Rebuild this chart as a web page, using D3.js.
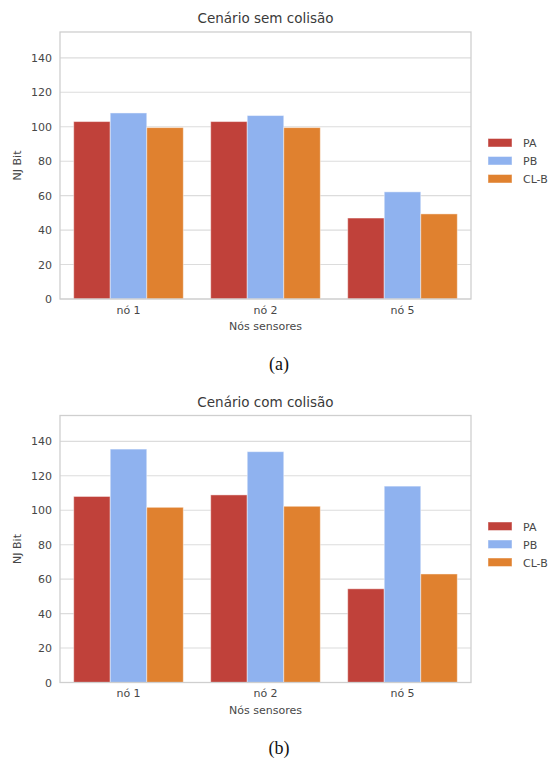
<!DOCTYPE html>
<html>
<head>
<meta charset="utf-8">
<script src="https://cdn.jsdelivr.net/npm/d3@7"></script>
<style>
  html, body { margin: 0; padding: 0; background: #fff; }
  svg { display: block; }
</style>
</head>
<body>
<svg id="chart" width="550" height="758"></svg>
<script>
// Energy per bit (nJ) for each sensor node, with and without collisions
const categories = ["nó 1", "nó 2", "nó 5"];
const seriesNames = ["PA", "PB", "CL-B"];
const seriesColors = ["#c0413a", "#8fb2ef", "#e0812f"];

const semColisaoPA  = [103, 103, 47];
const semColisaoPB  = [108, 106.5, 62.2];
const semColisaoCLB = [99.5, 99.5, 49.4];

const comColisaoPA  = [108, 108.9, 54.4];
const comColisaoPB  = [135.5, 134, 114];
const comColisaoCLB = [101.7, 102.3, 63];

const yTicks = [0, 20, 40, 60, 80, 100, 120, 140];
const yMax = 155;

const panels = [
  { title: "Cenário sem colisão", caption: "(a)", values: [semColisaoPA, semColisaoPB, semColisaoCLB], top: 32 },
  { title: "Cenário com colisão", caption: "(b)", values: [comColisaoPA, comColisaoPB, comColisaoCLB], top: 415.5 }
];

const svg = d3.select("#chart");
const font = "'DejaVu Sans', sans-serif";
const left = 60, right = 471, plotH = 267;

panels.forEach(p => {
  const g = svg.append("g");
  const top = p.top, bottom = p.top + plotH;

  const x = d3.scaleBand().domain(categories).range([left, right])
    .paddingInner(0.2).paddingOuter(0.1);
  const xs = d3.scaleBand().domain(seriesNames).range([0, x.bandwidth()]);
  const y = d3.scaleLinear().domain([0, yMax]).range([bottom, top]);

  // horizontal grid
  g.append("g").selectAll("line").data(yTicks).join("line")
    .attr("x1", left).attr("x2", right)
    .attr("y1", d => y(d)).attr("y2", d => y(d))
    .attr("stroke", "#dcdcdc").attr("stroke-width", 1.1);

  // bars
  const rows = [];
  seriesNames.forEach((s, si) => categories.forEach((c, ci) =>
    rows.push({ s, si, c, v: p.values[si][ci] })));
  g.append("g").selectAll("rect").data(rows).join("rect")
    .attr("x", d => x(d.c) + xs(d.s))
    .attr("y", d => y(d.v))
    .attr("width", xs.bandwidth())
    .attr("height", d => y(0) - y(d.v))
    .attr("fill", d => seriesColors[d.si])
    .attr("stroke", "#ffffff").attr("stroke-opacity", 0.45).attr("stroke-width", 1);

  // frame
  g.append("rect").attr("x", left).attr("y", top)
    .attr("width", right - left).attr("height", plotH)
    .attr("fill", "none").attr("stroke", "#cfcfcf").attr("stroke-width", 1.3);

  // y axis labels
  const yAxis = d3.axisLeft(y).tickValues(yTicks).tickSize(0).tickPadding(8);
  const ya = g.append("g").attr("transform", `translate(${left},0)`).call(yAxis);
  ya.select(".domain").remove();
  ya.selectAll("text").attr("font-family", font).attr("font-size", 11).attr("fill", "#474747");

  // x axis labels
  const xAxis = d3.axisBottom(x).tickSize(0).tickPadding(7);
  const xa = g.append("g").attr("transform", `translate(0,${bottom})`).call(xAxis);
  xa.select(".domain").remove();
  xa.selectAll("text").attr("font-family", font).attr("font-size", 11).attr("fill", "#474747");

  // titles
  g.append("text").attr("x", (left + right) / 2).attr("y", top - 9)
    .attr("text-anchor", "middle").attr("font-family", font).attr("font-size", 13.5)
    .attr("fill", "#3a3a3a").text(p.title);
  g.append("text").attr("x", (left + right) / 2).attr("y", bottom + 31)
    .attr("text-anchor", "middle").attr("font-family", font).attr("font-size", 11)
    .attr("fill", "#474747").text("Nós sensores");
  g.append("text")
    .attr("transform", `translate(21,${(top + bottom) / 2}) rotate(-90)`)
    .attr("text-anchor", "middle").attr("font-family", font).attr("font-size", 11)
    .attr("fill", "#474747").text("NJ Bit");

  // legend
  const lg = g.append("g").attr("transform", `translate(488,${top + 110.5})`);
  seriesNames.forEach((s, i) => {
    lg.append("rect").attr("x", 0).attr("y", i * 18 - 4).attr("width", 24).attr("height", 8.5)
      .attr("fill", seriesColors[i]).attr("stroke", "#ffffff").attr("stroke-opacity", 0.45);
    lg.append("text").attr("x", 35).attr("y", i * 18 + 4.5)
      .attr("font-family", font).attr("font-size", 11).attr("fill", "#474747").text(s);
  });

  // caption
  g.append("text").attr("x", 279).attr("y", bottom + 71)
    .attr("text-anchor", "middle").attr("font-family", "'Liberation Serif', serif")
    .attr("font-size", 18).attr("fill", "#111").text(p.caption);
});
</script>
</body>
</html>
